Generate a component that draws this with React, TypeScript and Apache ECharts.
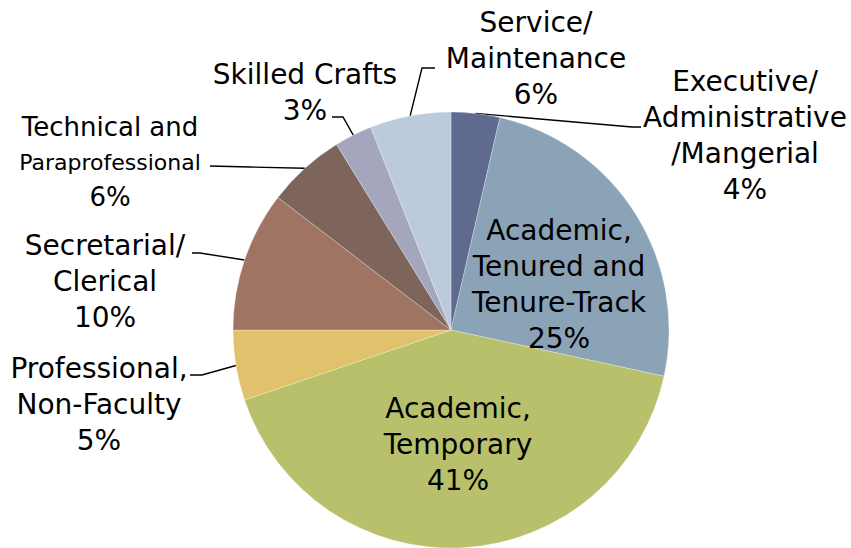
import React, { useEffect, useRef } from "react";
import * as echarts from "echarts";

const categories = [
  "Executive/\nAdministrative\n/Mangerial",
  "Academic,\nTenured and\nTenure-Track",
  "Academic,\nTemporary",
  "Professional,\nNon-Faculty",
  "Secretarial/\nClerical",
  "Technical and Paraprofessional",
  "Skilled Crafts",
  "Service/\nMaintenance",
];
const values = [3.6, 24.8, 41.4, 5.2, 10.4, 5.8, 2.8, 6.0];
const colors = [
  "#606a8f",
  "#8aa3b7",
  "#b9c06b",
  "#dfc26b",
  "#a07462",
  "#7e655c",
  "#a3a6bd",
  "#bccbdb",
];
const insideLabels = [false, true, true, false, false, false, false, false];

// label placement (layout only)
const labelCenters: number[][] = [
  [745, 135],
  [559, 284],
  [458, 444],
  [99, 404],
  [105, 281],
  [110, 162],
  [305, 92],
  [536, 58],
];
const leaderBends: (number[][] | null)[] = [
  [[632, 127], [641, 127]],
  null,
  null,
  [[202, 375], [190, 375]],
  [[200, 253], [192, 253]],
  [[250, 167], [210, 166]],
  [[343, 117], [332, 117]],
  [[422, 68], [435, 68]],
];

export default function App() {
  const ref = useRef<HTMLDivElement>(null);
  useEffect(() => {
    if (!ref.current) return;
    const chart = echarts.init(ref.current, null, { renderer: "svg" });
    const font = "'DejaVu Sans', sans-serif";
    chart.setOption({
      animation: false,
      backgroundColor: "#ffffff",
      series: [
        {
          type: "pie",
          center: [451, 330],
          radius: 218,
          startAngle: 90,
          clockwise: true,
          avoidLabelOverlap: false,
          itemStyle: { borderColor: "rgba(255,255,255,0.45)", borderWidth: 0.6 },
          label: {
            show: true,
            position: "outside",
            color: "#000",
            fontFamily: font,
            fontSize: 28,
            lineHeight: 36,
            align: "center",
            formatter: (p: any) => {
              const pct = Math.round(p.percent) + "%";
              if (p.dataIndex === 5) {
                return "{t|Technical and}\n{p|Paraprofessional}\n{t|" + pct + "}";
              }
              return p.name + "\n" + pct;
            },
            rich: {
              t: { fontFamily: font, fontSize: 26, lineHeight: 35, color: "#000" },
              p: { fontFamily: font, fontSize: 22, lineHeight: 35, color: "#000" },
            },
          },
          labelLine: {
            show: true,
            smooth: false,
            lineStyle: { color: "#000", width: 1.4 },
          },
          labelLayout: (params: any) => {
            const i = params.dataIndex;
            const c = labelCenters[i];
            const res: any = { x: c[0], y: c[1], align: "center", verticalAlign: "middle" };
            const bend = leaderBends[i];
            if (bend && params.labelLinePoints) {
              res.labelLinePoints = [params.labelLinePoints[0], bend[0], bend[1]];
            }
            return res;
          },
          data: categories.map((name, i) => ({
            name,
            value: values[i],
            itemStyle: { color: colors[i] },
            labelLine: { show: !insideLabels[i] },
          })),
        },
      ],
    });
    return () => chart.dispose();
  }, []);
  return (
    <div
      ref={ref}
      style={{ position: "fixed", left: 0, top: 0, width: 851, height: 548 }}
    />
  );
}
